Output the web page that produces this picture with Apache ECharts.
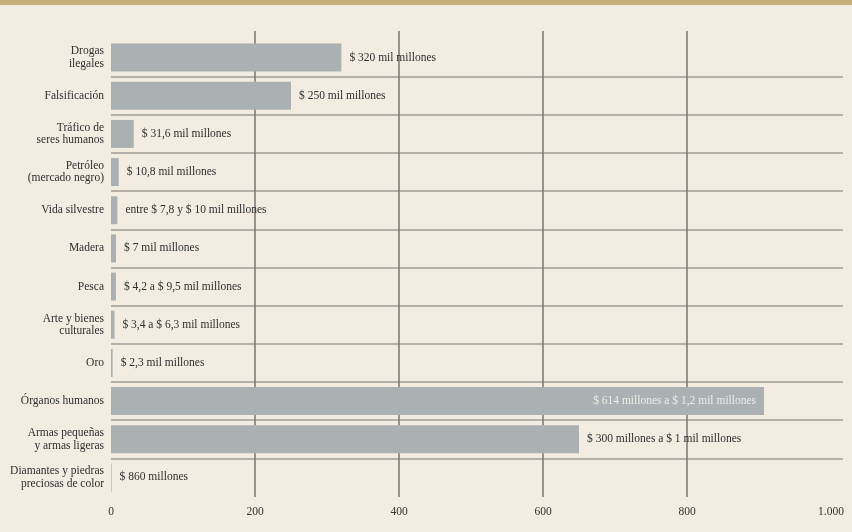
<!DOCTYPE html>
<html>
<head>
<meta charset="utf-8">
<script src="https://cdn.jsdelivr.net/npm/echarts@6/dist/echarts.min.js"></script>
<style>
html,body{margin:0;padding:0;background:#f3ede1;}
#chart{width:852px;height:532px;}
</style>
</head>
<body>
<div id="chart"></div>
<script>
const categories = [
  "Drogas\nilegales",
  "Falsificación",
  "Tráfico de\nseres humanos",
  "Petróleo\n(mercado negro)",
  "Vida silvestre",
  "Madera",
  "Pesca",
  "Arte y bienes\nculturales",
  "Oro",
  "Órganos humanos",
  "Armas pequeñas\ny armas ligeras",
  "Diamantes y piedras\npreciosas de color"
];
const values = [320, 250, 31.6, 10.8, 8.9, 7, 6.85, 4.85, 2.3, 907, 650, 0.86];
const valueLabels = [
  "$ 320 mil millones",
  "$ 250 mil millones",
  "$ 31,6 mil millones",
  "$ 10,8 mil millones",
  "entre $ 7,8 y $ 10 mil millones",
  "$ 7 mil millones",
  "$ 4,2 a $ 9,5 mil millones",
  "$ 3,4 a $ 6,3 mil millones",
  "$ 2,3 mil millones",
  "$ 614 millones a $ 1,2 mil millones",
  "$ 300 millones a $ 1 mil millones",
  "$ 860 millones"
];
const insideLabelIndex = [9];
const axisMin = 0, axisMax = 1000, axisStep = 200;
const tickLabels = {0: "0", 200: "200", 400: "400", 600: "600", 800: "800", 1000: "1.000"};

const FONT = "'Liberation Serif', 'Times New Roman', serif";
const plotLeft = 111, plotRight = 831, sepRight = 843;
const chart = echarts.init(document.getElementById('chart'), null, {renderer: 'canvas'});

const data = values.map((v, i) => {
  const inside = insideLabelIndex.indexOf(i) >= 0;
  return {
    value: v,
    label: inside ? {position: 'insideRight', distance: 8, color: '#eeece6'} : {position: 'right', distance: 8, color: '#2e2e2e'}
  };
});

chart.setOption({
  backgroundColor: '#f3ede1',
  animation: false,
  textStyle: {fontFamily: FONT},
  graphic: [{type: 'rect', left: 0, top: 0, shape: {width: 852, height: 5}, style: {fill: '#c5af76'}, silent: true}],
  grid: [
    {left: plotLeft, right: 852 - plotRight, top: 31, bottom: 35, containLabel: false},
    {left: plotLeft, right: 852 - sepRight, top: 38.5, bottom: 35.5, containLabel: false}
  ],
  xAxis: [
    {
      gridIndex: 0, type: 'value', min: axisMin, max: axisMax, interval: axisStep, z: 0,
      axisLine: {show: false}, axisTick: {show: false},
      splitLine: {show: true, showMinLine: false, showMaxLine: false, lineStyle: {color: '#767570', width: 1.5}},
      axisLabel: {margin: 9, fontFamily: FONT, fontSize: 11.5, color: '#333', formatter: v => tickLabels[v] !== undefined ? tickLabels[v] : String(v)}
    },
    {
      gridIndex: 1, type: 'value', min: axisMin, max: axisMax * (sepRight - plotLeft) / (plotRight - plotLeft),
      show: false
    }
  ],
  yAxis: [
    {gridIndex: 0, type: 'value', show: false, min: 0, max: 1},
    {
      gridIndex: 1, type: 'category', data: categories, inverse: true, z: 0,
      axisLine: {show: false}, axisTick: {show: false},
      splitLine: {show: true, showMinLine: false, showMaxLine: false, lineStyle: {color: '#a09d96', width: 1.5}},
      axisLabel: {margin: 7, fontFamily: FONT, fontSize: 11.5, color: '#2e2e2e', lineHeight: 12.5, align: 'right'}
    }
  ],
  series: [{
    type: 'bar',
    xAxisIndex: 1, yAxisIndex: 1,
    data: data,
    barWidth: 28,
    zlevel: 1,
    z: 10,
    itemStyle: {color: '#abb1b3'},
    label: {show: true, fontFamily: FONT, fontSize: 11.5, formatter: p => valueLabels[p.dataIndex]}
  }]
});
</script>
</body>
</html>
